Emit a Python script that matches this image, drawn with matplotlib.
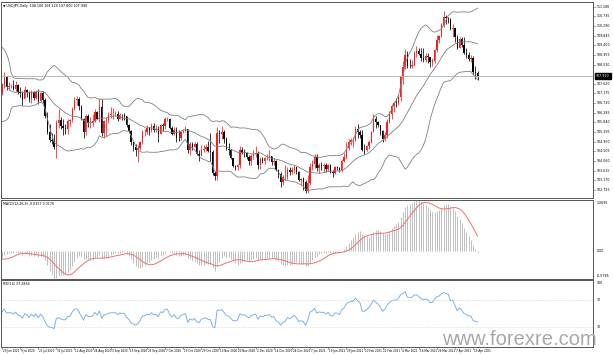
import numpy as np
import pandas as pd
import matplotlib
matplotlib.use("Agg")
import matplotlib.pyplot as plt

# USDJPY daily closes before the visible window (warm-up for indicators), Apr-Jun 2020
pre_closes = [107.18, 107.89, 108.45, 109.23, 108.77, 108.78, 108.48, 108.42, 107.72, 107.22, 107.48,
              107.94, 107.55, 107.73, 107.70, 107.78, 107.64, 107.51, 107.27, 106.89, 106.60, 107.18,
              106.87, 106.70, 106.61, 106.11, 106.25, 106.68, 107.70, 107.14, 106.96, 107.20, 107.08,
              107.31, 107.71, 107.51, 107.62, 107.61, 107.71, 107.52, 107.72, 107.62, 107.81,
              107.62, 108.67, 108.90, 109.18, 109.59, 108.44, 107.76, 107.13, 106.86, 107.37, 107.34,
              107.38, 107.02, 106.97, 106.87, 106.88, 106.52, 106.98, 107.17, 107.20]

# visible bars 29 Jun 2020 - 21 Apr 2021
closes = [
    # Jun 29 - Jul 31
    107.55, 107.93, 107.47, 107.50, 107.51, 107.37, 107.56, 107.25, 107.21, 106.91, 107.34, 107.23,
    106.92, 107.24, 106.99, 107.26, 106.81, 107.19, 106.87, 106.13, 105.39, 105.05, 104.97, 104.72, 105.83,
    # Aug
    105.94, 105.70, 105.57, 105.56, 105.92, 105.94, 106.48, 106.86, 106.91, 106.58, 106.00, 105.41,
    106.14, 105.80, 105.80, 105.90, 106.34, 105.99, 106.55, 105.37, 105.89,
    # Sep
    105.95, 106.17, 106.21, 106.23, 106.25, 106.00, 106.19, 106.17, 106.14, 105.72, 105.45, 104.95,
    104.73, 104.56, 104.67, 104.94, 105.39, 105.39, 105.57, 105.47, 105.69, 105.48,
    # Oct
    105.52, 105.30, 105.74, 105.68, 105.98, 106.02, 105.59, 105.31, 105.51, 105.13, 105.12, 105.40,
    105.44, 105.53, 104.55, 104.86, 104.71, 104.85, 104.41, 104.28, 104.59, 104.64,
    # Nov
    104.72, 104.51, 104.50, 103.50, 103.37, 105.35, 105.30, 105.41, 105.08, 104.62, 104.55, 104.19,
    103.82, 103.79, 103.87, 104.56, 104.45, 104.44, 104.25, 104.06, 104.31,
    # Dec
    104.37, 104.45, 103.86, 104.17, 104.06, 104.18, 104.22, 104.28, 104.03, 104.06, 103.64, 103.48,
    103.09, 103.31, 103.35, 103.64, 103.55, 103.65, 103.80, 103.55, 103.18, 103.24,
    # Jan
    103.12, 102.70, 103.06, 103.81, 103.94, 104.24, 103.74, 103.89, 103.84, 103.86, 103.69, 103.86,
    103.54, 103.51, 103.78, 103.76, 103.64, 104.06, 104.24, 104.68,
    # Feb
    104.95, 105.02, 105.04, 105.55, 105.38, 105.26, 104.58, 104.57, 104.76, 104.96, 105.40, 106.02,
    105.87, 105.71, 105.46, 105.08, 105.28, 105.87, 106.24, 106.58,
    # Mar
    106.75, 106.73, 107.03, 107.97, 108.38, 108.93, 108.45, 108.43, 108.48, 109.04, 109.13, 109.00,
    108.83, 108.73, 108.90, 108.84, 108.62, 108.65, 109.19, 109.66, 109.81, 110.35, 110.72,
    # Apr
    110.64, 110.62, 110.15, 110.18, 109.78, 109.28, 109.67, 109.39, 109.06, 108.93, 108.77, 108.79,
    108.16, 108.10, 107.99]

highs = [
    107.66, 108.16, 108.00, 107.72, 107.62, 107.80, 107.75, 107.62, 107.49, 107.30, 107.51, 107.40,
    107.29, 107.34, 107.30, 107.35, 107.39, 107.23, 107.27, 106.95, 106.30, 105.75, 105.34, 105.30, 105.96,
    106.48, 106.10, 105.99, 105.75, 106.00, 106.02, 106.54, 107.00, 107.04, 107.00, 106.64, 106.03,
    106.24, 106.21, 106.09, 106.24, 106.48, 106.38, 106.95, 106.90, 105.94,
    106.10, 106.32, 106.55, 106.50, 106.38, 106.39, 106.28, 106.24, 106.27, 106.15, 105.78, 105.51,
    104.92, 104.86, 104.80, 104.98, 105.50, 105.52, 105.71, 105.58, 105.80, 105.80,
    105.72, 105.68, 105.79, 105.82, 106.11, 106.10, 106.06, 105.70, 105.63, 105.65, 105.48, 105.45,
    105.52, 105.66, 105.53, 104.93, 104.92, 104.95, 104.92, 104.57, 104.78, 104.78,
    104.85, 104.98, 105.34, 104.56, 103.61, 105.65, 105.48, 105.67, 105.48, 105.15, 104.89, 104.62,
    104.22, 103.88, 103.94, 104.76, 104.71, 104.64, 104.50, 104.33, 104.40,
    104.56, 104.76, 104.51, 104.23, 104.24, 104.23, 104.37, 104.55, 104.28, 104.19, 104.09, 103.70,
    103.56, 103.42, 103.89, 103.80, 103.80, 103.81, 103.88, 103.80, 103.62, 103.30,
    103.31, 103.19, 103.44, 103.96, 104.09, 104.39, 104.40, 103.95, 104.03, 103.98, 103.95, 103.94,
    103.92, 103.66, 103.82, 103.85, 103.80, 104.14, 104.42, 104.94,
    105.06, 105.12, 105.15, 105.66, 105.77, 105.49, 105.48, 104.84, 104.80, 105.05, 105.43, 106.22,
    106.12, 105.92, 105.65, 105.47, 105.40, 105.99, 106.35, 106.69,
    106.81, 106.97, 107.15, 108.00, 108.65, 109.24, 109.14, 108.78, 108.70, 109.12, 109.35, 109.25,
    109.28, 109.28, 109.05, 109.05, 108.84, 108.79, 109.23, 109.85, 109.85, 110.42, 110.97,
    110.77, 110.68, 110.66, 110.36, 110.20, 109.88, 109.79, 109.77, 109.77, 109.28, 109.08, 108.96,
    108.90, 108.45, 108.22]

lows = [
    107.12, 107.45, 107.34, 107.35, 107.42, 107.32, 107.30, 107.17, 107.03, 106.64, 106.96, 107.00,
    106.80, 106.75, 106.86, 106.93, 106.68, 106.78, 106.73, 106.05, 105.33, 104.93, 104.83, 104.64, 104.19,
    105.60, 105.54, 105.28, 105.29, 105.33, 105.68, 105.88, 106.43, 106.63, 106.43, 105.95, 105.11,
    105.24, 105.63, 105.57, 105.67, 105.84, 105.98, 105.86, 105.20, 105.11,
    105.20, 105.80, 106.05, 106.00, 106.15, 105.91, 105.98, 105.96, 105.96, 105.63, 105.34, 104.82,
    104.52, 104.28, 104.00, 104.55, 104.85, 105.22, 105.33, 105.26, 105.42, 105.38,
    105.40, 104.94, 105.32, 105.44, 105.52, 105.92, 105.53, 105.26, 105.24, 104.92, 104.99, 105.01,
    105.34, 105.40, 104.44, 104.35, 104.59, 104.72, 104.36, 104.06, 104.37, 104.50,
    104.51, 104.47, 104.06, 103.44, 103.18, 103.19, 104.88, 105.06, 104.91, 104.58, 104.32, 104.17,
    103.79, 103.66, 103.65, 103.74, 104.39, 104.25, 104.17, 103.90, 103.89,
    104.15, 104.27, 103.68, 103.70, 103.95, 103.93, 104.11, 104.07, 103.87, 103.89, 103.60, 103.30,
    102.86, 102.95, 103.18, 103.24, 103.44, 103.46, 103.49, 103.46, 103.15, 102.95,
    102.71, 102.61, 102.59, 102.95, 103.67, 103.76, 103.60, 103.52, 103.67, 103.54, 103.54, 103.60,
    103.51, 103.33, 103.45, 103.66, 103.54, 103.55, 104.00, 104.16,
    104.56, 104.81, 104.72, 104.97, 105.12, 105.14, 104.53, 104.41, 104.52, 104.60, 104.90, 105.39,
    105.60, 105.61, 105.26, 104.92, 104.99, 105.12, 105.80, 105.98,
    106.32, 106.53, 106.65, 106.85, 107.60, 108.29, 108.35, 108.33, 108.36, 108.46, 108.85, 108.93,
    108.68, 108.62, 108.63, 108.60, 108.41, 108.42, 108.56, 109.07, 109.52, 109.76, 110.24,
    110.36, 110.42, 110.08, 109.79, 109.56, 109.22, 109.25, 109.33, 108.99, 108.79, 108.65, 108.61,
    108.07, 107.83, 107.80]

date_labels = ["29 Jun 2020", "9 Jul 2020", "21 Jul 2020", "31 Jul 2020", "12 Aug 2020", "24 Aug 2020",
               "3 Sep 2020", "15 Sep 2020", "25 Sep 2020", "7 Oct 2020", "19 Oct 2020", "29 Oct 2020",
               "10 Nov 2020", "20 Nov 2020", "2 Dec 2020", "14 Dec 2020", "24 Dec 2020", "7 Jan 2021",
               "19 Jan 2021", "29 Jan 2021", "10 Feb 2021", "22 Feb 2021", "4 Mar 2021", "16 Mar 2021",
               "26 Mar 2021", "7 Apr 2021", "19 Apr 2021"]

dates = pd.bdate_range("2020-06-29", "2021-04-21")
dates = [d for d in dates if d not in (pd.Timestamp("2020-12-25"), pd.Timestamp("2021-01-01"))]

# ---- indicators (MT4 style) on full history
allc = np.array(pre_closes + closes)
npre = len(pre_closes)

def ema(v, n):
    k = 2.0 / (n + 1)
    out = np.empty_like(v)
    out[0] = v[0]
    for i in range(1, len(v)):
        out[i] = v[i] * k + out[i - 1] * (1 - k)
    return out

s = pd.Series(allc)
bb_mid = s.rolling(20).mean().values
bb_std = s.rolling(20).std(ddof=0).values
bb_up = bb_mid + 2 * bb_std
bb_lo = bb_mid - 2 * bb_std

macd = ema(allc, 12) - ema(allc, 26)
signal = pd.Series(macd).rolling(9).mean().values

diff = np.diff(allc, prepend=allc[0])
gain = np.clip(diff, 0, None)
loss = np.clip(-diff, 0, None)
ag = np.zeros_like(allc); al = np.zeros_like(allc)
ag[14] = gain[1:15].mean(); al[14] = loss[1:15].mean()
for i in range(15, len(allc)):
    ag[i] = (ag[i - 1] * 13 + gain[i]) / 14
    al[i] = (al[i - 1] * 13 + loss[i]) / 14
rsi = 100 - 100 / (1 + ag / np.maximum(al, 1e-9))

bb_up, bb_mid, bb_lo = bb_up[npre:], bb_mid[npre:], bb_lo[npre:]
macd, signal, rsi = macd[npre:], signal[npre:], rsi[npre:]

c = np.array(closes)
h = np.array(highs)
l = np.array(lows)
o = np.concatenate([[pre_closes[-1]], c[:-1]])
x = np.arange(len(c))

# ---- layout in pixels
W, H = 613, 354
PX = 2.265
fig = plt.figure(figsize=(W / 100, H / 100), dpi=100)
fig.patch.set_facecolor("white")

def px_axes(left, top, right, bottom):
    return fig.add_axes([left / W, 1 - bottom / H, (right - left) / W, (bottom - top) / H])

ax1 = px_axes(1, 2, 593, 198)
ax2 = px_axes(1, 200, 593, 279)
ax3 = px_axes(1, 280, 593, 347)

xl = ((1 - 2) / PX, (593 - 2) / PX)
small = dict(fontsize=2.3, color="black", family="DejaVu Sans")
tiny = dict(fontsize=2.0, color="black", family="DejaVu Sans")

for ax in (ax1, ax2, ax3):
    ax.set_xlim(*xl)
    ax.set_xticks([])
    ax.set_yticks([])
    for sp in ax.spines.values():
        sp.set_color("#555555")
        sp.set_linewidth(0.7)

# ---- main candles
up = c >= o
col = np.where(up, "#ff1a1a", "black")
ax1.vlines(x, l, h, colors=col, linewidth=0.55)
body = np.maximum(np.abs(c - o), 0.02)
ax1.bar(x, body, bottom=np.minimum(o, c), width=0.6, color=col, linewidth=0)
for band in (bb_up, bb_mid, bb_lo):
    ax1.plot(x, band, color="#808080", linewidth=0.6)
ylo, yhi = 102.36, 111.39
ax1.set_ylim(ylo, yhi)
ax1.axhline(c[-1], color="#b0b0b0", linewidth=0.6)

for p in np.arange(102.725, 111.3, 0.445):
    if abs(p - c[-1]) < 0.2:
        continue
    ax1.plot([1.0, 1.004], [(p - ylo) / (yhi - ylo)] * 2, transform=ax1.transAxes,
             color="#555555", linewidth=0.4, clip_on=False)
    ax1.text(1.007, (p - ylo) / (yhi - ylo), f"{p:.3f}", transform=ax1.transAxes,
             va="center", ha="left", clip_on=False, **small)
ax1.text(1.005, (c[-1] - ylo) / (yhi - ylo), f"{c[-1]:.3f}", transform=ax1.transAxes,
         va="center", ha="left", fontsize=2.3, color="white", clip_on=False,
         bbox=dict(boxstyle="square,pad=0.35", fc="black", ec="black"))
ax1.text(0.004, 0.988, "\u25bc USDJPY,Daily  %.3f %.3f %.3f %.3f" % (o[-1], h[-1], l[-1], c[-1]),
         transform=ax1.transAxes, va="top", ha="left", **small)

# ---- MACD
ax2.vlines(x, 0, macd, colors="#b4b4b4", linewidth=0.6)
ax2.plot(x, signal, color="#f07070", linewidth=0.7)
mmax = max(np.nanmax(macd), np.nanmax(signal))
mmin = min(np.nanmin(macd), np.nanmin(signal))
ax2.set_ylim(mmin, mmax)
ax2.text(0.004, 0.97, "MACD(12,26,9) %.4f %.4f" % (macd[-1], signal[-1]),
         transform=ax2.transAxes, va="top", ha="left", **small)
ax2.text(1.007, 0.99, f"{mmax:.4f}", transform=ax2.transAxes, va="top", ha="left",
         clip_on=False, **small)
ax2.text(1.007, -mmin / (mmax - mmin), "0.00", transform=ax2.transAxes, va="center",
         ha="left", clip_on=False, **small)
ax2.text(1.007, 0.01, f"{mmin:.4f}", transform=ax2.transAxes, va="bottom", ha="left",
         clip_on=False, **small)

# ---- RSI
ax3.plot(x, rsi, color="#7fb2e5", linewidth=0.7)
for lvl in (70, 30):
    ax3.axhline(lvl, color="#c8c8c8", linewidth=0.5, linestyle=(0, (1, 1.5)))
ax3.set_ylim(0, 100)
ax3.text(0.004, 0.97, "RSI(14) %.4f" % rsi[-1], transform=ax3.transAxes,
         va="top", ha="left", **small)
ax3.text(1.007, 0.985, "100", transform=ax3.transAxes, va="top", ha="left",
         clip_on=False, **small)
for lvl in (70, 30):
    ax3.text(1.007, lvl / 100, str(lvl), transform=ax3.transAxes, va="center", ha="left",
             clip_on=False, **small)

# date labels under the bottom panel
for lab in date_labels:
    i = dates.index(pd.Timestamp(lab))
    ax3.plot([i, i], [0, -3], color="#555555", linewidth=0.4, clip_on=False)
    ax3.text(i + 0.4, -3.5, lab, va="top", ha="left", clip_on=False, **tiny)

fig.text(442 / W, 1 - 345 / H, "www.forexre.com", fontsize=14.5, color="#a8a8a8",
         family="Liberation Sans", va="baseline", ha="left")

fig.savefig("out.png", dpi=100, facecolor="white")
